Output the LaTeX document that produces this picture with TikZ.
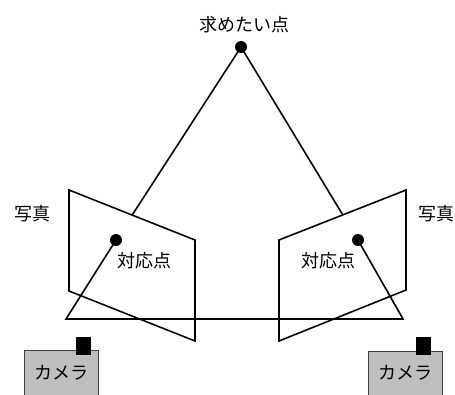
\documentclass[tikz,border=0pt]{standalone}
\usepackage{fontspec}
\newfontfamily\jpfont{Noto Sans CJK JP}
\begin{document}
\begin{tikzpicture}[x=1pt,y=-1pt,
  edge/.style={line width=1.6pt, line join=miter},
  photo/.style={edge, fill=white},
  dotmark/.style={circle, fill=black, inner sep=0pt, minimum size=12pt},
  jplabel/.style={font=\jpfont\fontsize{18}{21}\selectfont, inner sep=0pt},
  body/.style={draw=black!75, fill=black!25, line width=0.8pt, minimum width=74pt, minimum height=50pt, inner sep=0pt},
  lens/.style={fill=black, minimum width=15pt, minimum height=18pt, inner sep=0pt}]
\useasboundingbox (0,0) rectangle (455,394);
\clip (0,0) rectangle (455,394);

% key points
\coordinate (target) at (241,47);
\coordinate (pl) at (116,240);
\coordinate (pr) at (358,240);
\coordinate (cl) at (66,319);
\coordinate (cr) at (403,319);

% rays from the target point (hidden behind the photos)
\draw[edge] (target) -- (pl);
\draw[edge] (target) -- (pr);

% the two photos
\filldraw[photo] (69,190) -- (195,240) -- (195,341) -- (69,291) -- cycle;
\filldraw[photo] (279,240) -- (406,190) -- (406,290) -- (279,341) -- cycle;

% rays to the camera centres and the baseline
\draw[edge] (pl) -- (cl) -- (cr) -- (pr);

% points
\node[dotmark] (T) at (target) {};
\node[dotmark] (L) at (pl) {};
\node[dotmark] (R) at (pr) {};

% labels
\node[jplabel] (tlabel) at (244,25) {求めたい点};
\node[jplabel] (photoL) at (32,214) {写真};
\node[jplabel] (photoR) at (436,214) {写真};
\node[jplabel] (corrL) at (144.5,261) {対応点};
\node[jplabel] (corrR) at (328,261) {対応点};

% cameras
\node[body] (camL) at (61,375) {};
\node[jplabel] (camLtext) at (61,373) {カメラ};
\node[lens] (lensL) at (83.5,346) {};
\node[body] (camR) at (405,376) {};
\node[jplabel] (camRtext) at (405.5,373) {カメラ};
\node[lens] (lensR) at (423,346) {};
\end{tikzpicture}
\end{document}
